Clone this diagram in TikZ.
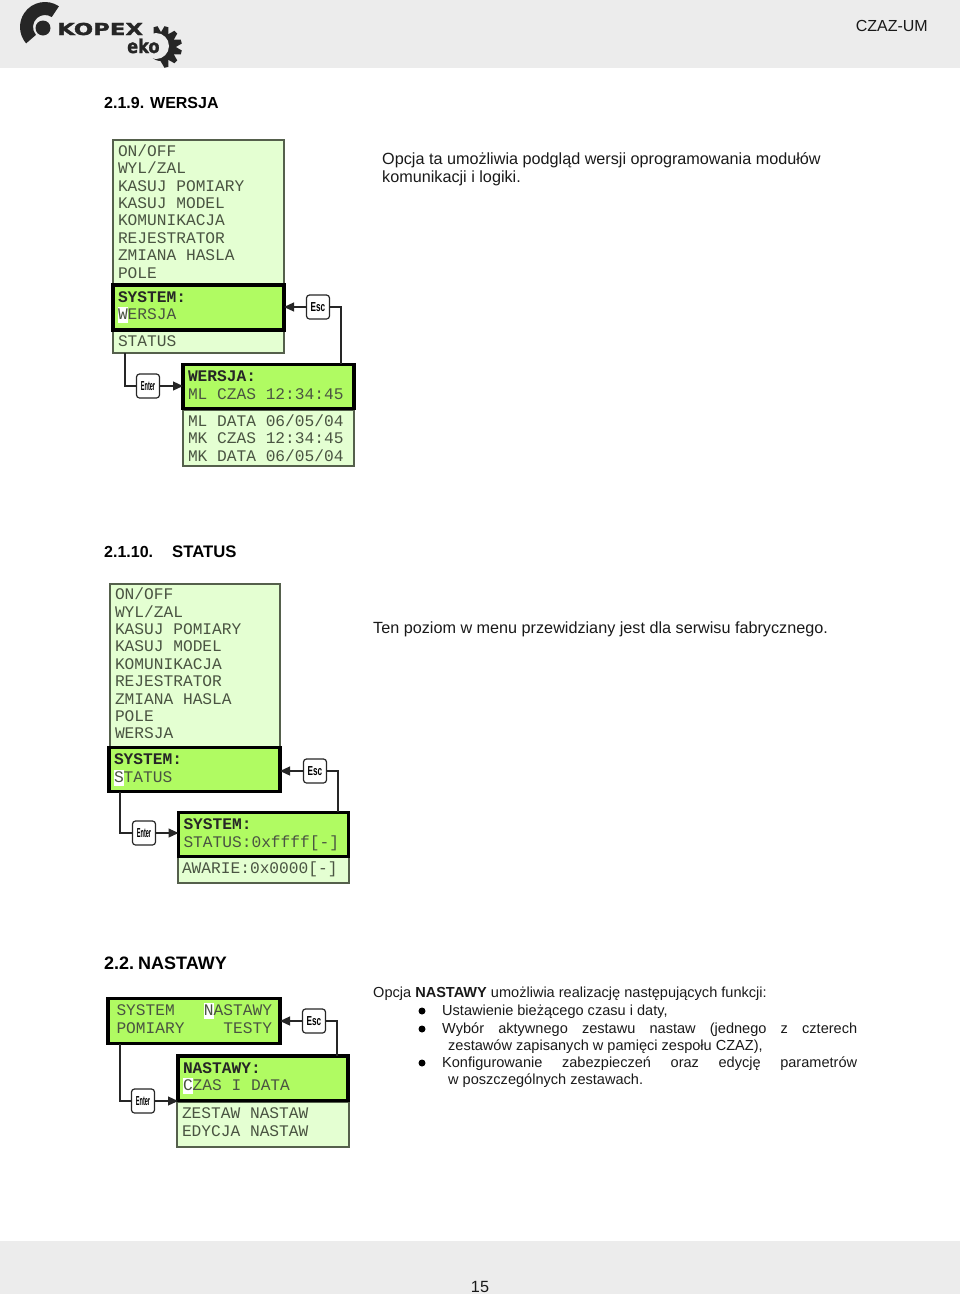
\documentclass[tikz,border=0pt]{standalone}
\usepackage{graphicx}
\usepackage{fontspec}
\setmainfont{Liberation Sans}
\setmonofont{Liberation Mono}
\newfontfamily\logofont[BoldFeatures={FakeBold=1.5}]{DejaVu Sans}
\usetikzlibrary{arrows.meta,positioning}
\definecolor{panelfill}{HTML}{E4FFD2}
\definecolor{selfill}{HTML}{B0FB62}
\definecolor{panelline}{HTML}{55604C}
\definecolor{lcdtext}{HTML}{4A5442}
\definecolor{bandgray}{HTML}{ECECEC}
\newcommand{\curs}[1]{{\fboxsep=0pt\colorbox{white}{\rule[-3.5pt]{0pt}{16pt}#1}}}
\newcommand{\lcdhead}[1]{\textbf{\textcolor{black!85}{#1}}}
\newcommand{\jline}[1]{\makebox[415pt][s]{#1}}
\newcommand{\esckey}{\scalebox{0.63}[1]{Esc}}
\newcommand{\enterkey}{\scalebox{0.43}[1]{Enter}}
\newcommand{\lcdgap}[1]{\endgraf\kern#1pt\relax}

\begin{document}
\begin{tikzpicture}[x=1pt, y=-1pt, >=Stealth,
  lcd/.style={anchor=north west, outer sep=0pt, inner xsep=5pt, inner ysep=0pt,
    align=left, text width=#1, text=lcdtext,
    execute at begin node={\spaceskip=0.6em\relax},
    font=\ttfamily\fontsize{16.2}{17.4}\selectfont},
  panel/.style={lcd=#1, draw=panelline, line width=1.3pt, fill=panelfill},
  sel/.style={lcd=#1, draw=black, line width=3.4pt, fill=selfill},
  keybtn/.style={draw=black!85, line width=1.2pt, fill=white, rounded corners=3pt,
    minimum width=23pt, minimum height=24pt, inner sep=0pt,
    font=\bfseries\fontsize{13}{13}\selectfont},
  conn/.style={line width=1.2pt, color=black!85},
  arr/.style={conn, -{Triangle[length=10pt,width=9pt]}},
  head/.style={anchor=base west, inner sep=0pt, font=\bfseries\fontsize{16}{16}\selectfont},
  body/.style={anchor=base west, inner sep=0pt, text=black!90, font=\fontsize{16.2}{16.2}\selectfont},
  small/.style={body, font=\fontsize{14.55}{14.55}\selectfont},
  bullet/.style={circle, fill=black, inner sep=0pt, minimum size=7pt}
]
\useasboundingbox (0,0) rectangle (960,1294);

% Header and footer
\fill[bandgray] (0,0) rectangle (960,68);
\fill[bandgray] (0,1241) rectangle (960,1294);
\node[body, anchor=base east, font=\fontsize{16}{16}\selectfont] (docname) at (928,31) {CZAZ-UM};
\node[body, anchor=base] (pagenum) at (480,1292) {15};

% Logo
\fill[black!85] (45,27) ++(-56:25) arc (-56:-221:25) -- ++(-41:13) arc (-221:-56:12) -- cycle;
\fill[black!85] (43,28) circle (7.5);
\node[anchor=base west, inner sep=0pt, text=black!85, font=\logofont\bfseries\fontsize{16.5}{16.5}\selectfont] (kopex) at (57,35) {\scalebox{1.38}[1]{KOPEX}};
\foreach \ang in {-75,-45,-15,15,45,75,105}
  \fill[black!85, shift={(161,47)}, rotate=\ang] (12,-4.5) -- (21,-2) -- (21,2) -- (12,4.5) -- cycle;
\fill[black!85] (161,47) circle (14);
\fill[bandgray] (156,46) circle (13);
\node[anchor=base west, inner sep=0pt, text=black!85, font=\logofont\bfseries\fontsize{19}{19}\selectfont] (eko) at (127,53) {\scalebox{0.85}[1]{eko}};

% 2.1.9. Version
\node[head] (wersjahead) at (104,108) {2.1.9. WERSJA};
\node[panel=161, minimum height=145pt] (menua) at (113,140)
  {ON/OFF\\WYL/ZAL\\KASUJ POMIARY\\KASUJ MODEL\\KOMUNIKACJA\\REJESTRATOR\\ZMIANA HASLA\\POLE\lcdgap{2}};
\node[panel=161, minimum height=24pt] (statusa) at (113,329) {STATUS};
\node[sel=161, minimum height=45pt] (sela) at (113,285) {\lcdhead{SYSTEM:}\\\curs{W}ERSJA};
\node[panel=161, minimum height=56pt] (wersjalow) at (183,410) {ML DATA 06/05/04\\MK CZAS 12:34:45\\MK DATA 06/05/04};
\node[sel=161, minimum height=44pt] (wersjasel) at (183,364.5) {\lcdhead{WERSJA:}\\ML CZAS 12:34:45\lcdgap{3}};
\node[keybtn] (esca) at (318,307) {\esckey};
\node[keybtn] (entera) at (148,386) {\enterkey};
\coordinate (escina) at (341,364);
\coordinate (outa) at (125,353);
\draw[arr] (esca) -- (esca -| sela.east);
\draw[conn] (esca) -| (escina);
\draw[conn] (outa) |- (entera);
\draw[arr] (entera) -- (entera -| wersjasel.west);
\node[body] (wersjatxta) at (382,164) {Opcja ta umożliwia podgląd wersji oprogramowania modułów};
\node[body] (wersjatxtb) at (382,182) {komunikacji i logiki.};

% 2.1.10. Status
\node[head] (statushead) at (104,557) {2.1.10.};
\node[head, font=\bfseries\fontsize{16.7}{16.7}\selectfont] (statusname) at (172,557) {STATUS};
\node[panel=160, minimum height=163pt] (menub) at (110,584)
  {ON/OFF\\WYL/ZAL\\KASUJ POMIARY\\KASUJ MODEL\\KOMUNIKACJA\\REJESTRATOR\\ZMIANA HASLA\\POLE\\WERSJA\lcdgap{4}};
\node[sel=161, minimum height=44pt] (selb) at (109,747.7) {\lcdhead{SYSTEM:}\\\curs{S}TATUS};
\node[panel=163, inner xsep=4pt, minimum height=26pt] (awarie) at (178,857) {AWARIE:0x0000[-]\lcdgap{2}};
\node[sel=160, minimum height=44pt] (statussel) at (178.5,812.7) {\lcdhead{SYSTEM:}\\STATUS:0xffff[-]};
\node[keybtn] (escb) at (315,771) {\esckey};
\node[keybtn] (enterb) at (144,833) {\enterkey};
\coordinate (escinb) at (338,812);
\coordinate (outb) at (120,792);
\draw[arr] (escb) -- (escb -| selb.east);
\draw[conn] (escb) -| (escinb);
\draw[conn] (outb) |- (enterb);
\draw[arr] (enterb) -- (enterb -| statussel.west);
\node[body] (statustxt) at (373,633) {Ten poziom w menu przewidziany jest dla serwisu fabrycznego.};

% 2.2. Settings
\node[head, font=\bfseries\fontsize{18}{18}\selectfont] (nastawyhead) at (104,969) {2.2.\kern-1pt\ NASTAWY};
\node[sel=155, inner xsep=8.5pt, minimum height=45pt] (selc) at (108,998.7)
  {SYSTEM~~~\curs{N}ASTAWY\\POMIARY~~~~TESTY\lcdgap{6}};
\node[panel=162, minimum height=45pt] (nastawylow) at (177,1102) {ZESTAW NASTAW\\EDYCJA NASTAW\lcdgap{5}};
\node[sel=160, minimum height=44.5pt] (nastawysel) at (178,1056) {\lcdhead{NASTAWY:}\\\curs{C}ZAS I DATA};
\node[keybtn] (escc) at (314,1021) {\esckey};
\node[keybtn] (enterc) at (143,1101) {\enterkey};
\coordinate (escinc) at (337,1056);
\coordinate (outc) at (120,1044);
\draw[arr] (escc) -- (escc -| selc.east);
\draw[conn] (escc) -| (escinc);
\draw[conn] (outc) |- (enterc);
\draw[arr] (enterc) -- (enterc -| nastawysel.west);

\node[small] (nastawytxt) at (373,997) {Opcja \textbf{NASTAWY} umożliwia realizację następujących funkcji:};
\node[bullet] (dota) at (422,1011) {};
\node[small] (itema) at (442,1015) {Ustawienie bieżącego czasu i daty,};
\node[bullet] (dotb) at (422,1029) {};
\node[small] (itemb) at (442,1033) {\jline{Wybór aktywnego zestawu nastaw (jednego z czterech}};
\node[small] (itembb) at (448,1050) {zestawów zapisanych w pamięci zespołu CZAZ),};
\node[bullet] (dotc) at (422,1063) {};
\node[small] (itemc) at (442,1067) {\jline{Konfigurowanie zabezpieczeń oraz edycję parametrów}};
\node[small] (itemcc) at (448,1084) {w poszczególnych zestawach.};
\end{tikzpicture}
\end{document}
